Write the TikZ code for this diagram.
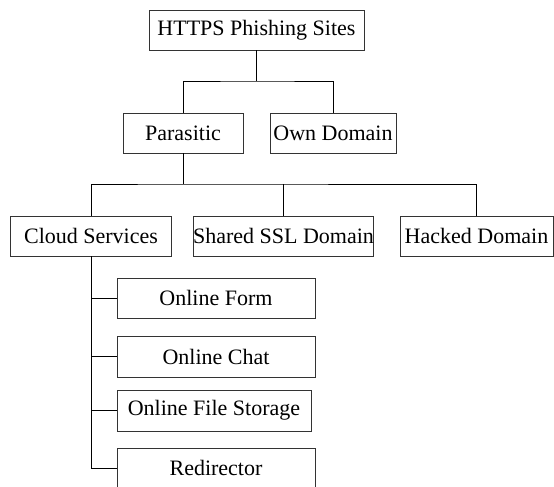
\documentclass[tikz,border=0pt]{standalone}
\usepackage{fontspec}
\setmainfont{Liberation Serif}
\begin{document}
\begin{tikzpicture}[x=1pt,y=-1pt,
  box/.style={draw=black!80,line width=0.9pt,rectangle,inner sep=0pt,minimum height=40pt,font=\fontsize{22}{26}\selectfont},
  conn/.style={draw=black,line width=0.9pt}]
\useasboundingbox (0,0) rectangle (554,487);
\node[box,minimum width=215pt] (top) at (256.5,30) {HTTPS Phishing Sites};
\node[box,minimum width=120pt] (par) at (183,133) {Parasitic};
\node[box,minimum width=126pt] (own) at (333,133) {Own Domain};
\node[box,minimum width=161pt] (cloud) at (91,236) {Cloud Services};
\node[box,minimum width=179pt] (shared) at (283.5,236) {Shared SSL Domain};
\node[box,minimum width=153pt] (hack) at (476.5,236) {Hacked Domain};
\node[box,minimum width=198pt] (form) at (216,298) {Online Form};
\node[box,minimum width=198pt,minimum height=41pt] (chat) at (216,356.5) {Online Chat};
\node[box,minimum width=194pt,minimum height=41pt] (file) at (214,410.5) {Online File Storage};
\node[box,minimum width=198pt] (redir) at (216,468) {Redirector};
\coordinate (j1) at (256.5,81);
\coordinate (j2) at (183,184);
\draw[conn] (top.south) -- (j1);
\draw[conn] (par.north) |- (j1) -| (own.north);
\draw[conn] (par.south) -- (j2);
\draw[conn] (cloud.north) |- (j2) -| (hack.north);
\draw[conn] (shared.north) -- (shared.north |- j2);
\draw[conn] (cloud.south) |- (form.west);
\draw[conn] (cloud.south) |- (chat.west);
\draw[conn] (cloud.south) |- (file.west);
\draw[conn] (cloud.south) |- (redir.west);
\end{tikzpicture}
\end{document}
